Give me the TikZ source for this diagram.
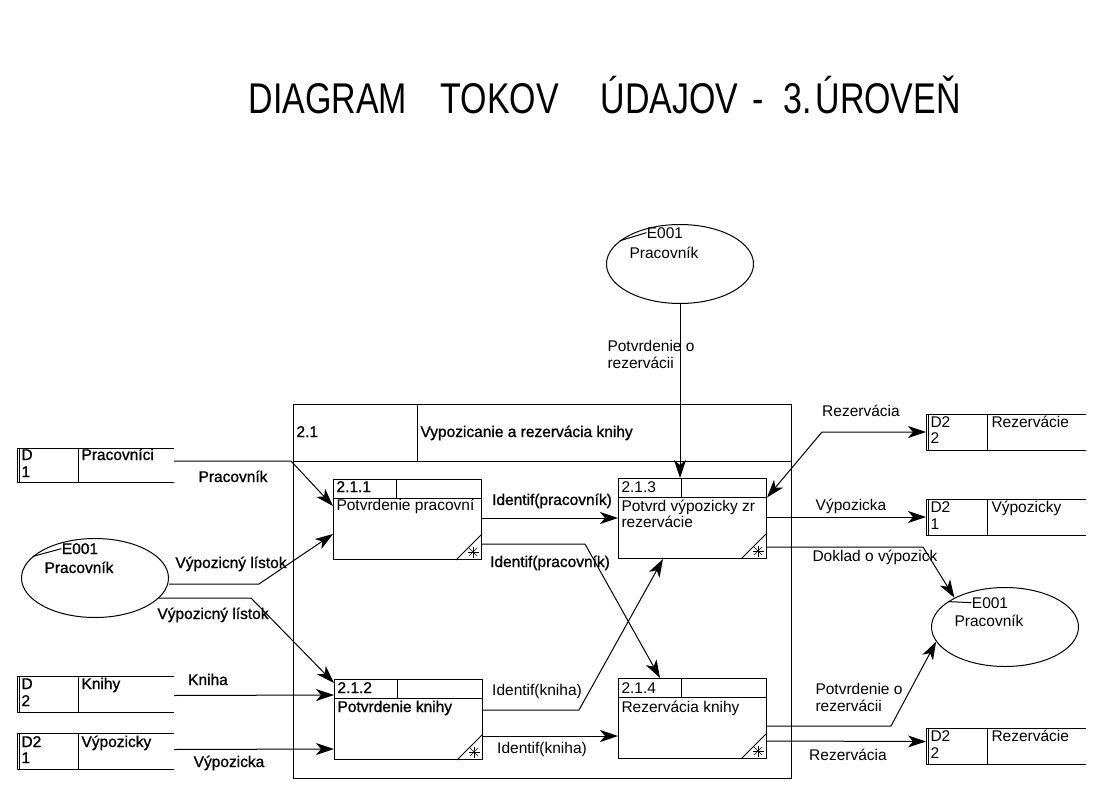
\documentclass[tikz,border=0pt]{standalone}
\usepackage{fontspec}
\setmainfont{Liberation Sans}
\newfontfamily\darkfont[FakeBold=1]{Liberation Sans}
\usepackage{graphicx}
\usetikzlibrary{arrows.meta,calc,shapes.geometric}

\newcommand\DFDstore[1]{%
  \draw (#1.north east) -- (#1.north west) -- (#1.south west) -- (#1.south east);
  \draw ($(#1.north west)+(2.5,0)$) -- ($(#1.south west)+(2.5,0)$);
  \draw ($(#1.north west)+(61.5,0)$) -- ($(#1.south west)+(61.5,0)$);}
\newcommand\DFDproc[1]{%
  \draw ($(#1.north west)+(0,19.5)$) -- ($(#1.north east)+(0,19.5)$);
  \draw ($(#1.north west)+(63,0)$) -- ($(#1.north west)+(63,19.5)$);
  \draw ($(#1.south east)+(-26,0)$) -- ($(#1.south east)+(0,-26)$);
  \foreach \a in {0,45,90,135}
    \draw[line width=0.6pt] ($(#1.south east)+(-9,-8)$) ++(\a:5.5) -- ++(\a+180:11);}

\begin{document}
\begin{tikzpicture}[x=1pt,y=-1pt,line width=1pt,
  every node/.style={inner sep=0pt},
  txt/.style={font=\fontsize{15.5}{17}\selectfont},
  dtxt/.style={font=\darkfont\fontsize{15.5}{17}\selectfont},
  ttl/.style={anchor=base west,font=\fontsize{43}{43}\selectfont},
  storebox/.style={minimum width=159pt,minimum height=35pt,anchor=north west},
  procbox/.style={draw,minimum width=148pt,minimum height=80pt,anchor=north west},
  entity/.style={draw,ellipse,minimum width=147pt,minimum height=79pt},
  tipA/.tip={Stealth[length=18pt,width=12pt,inset=5pt]},
  flow/.style={-tipA}]

\fill[white] (0,0) rectangle (1103,800);
\useasboundingbox (0,0) rectangle (1103,800);

% title
\node[ttl] (t1) at (248,113) {\scalebox{0.79}[1]{DIAGRAM}};
\node[ttl] (t2) at (440,113) {\scalebox{0.79}[1]{TOKOV}};
\node[ttl] (t3) at (600,113) {\scalebox{0.79}[1]{ÚDAJOV}};
\node[ttl] (t4) at (752,113) {\scalebox{0.79}[1]{-}};
\node[ttl] (t5) at (783,113) {\scalebox{0.79}[1]{3.}};
\node[ttl] (t6) at (815,113) {\scalebox{0.79}[1]{ÚROVEŇ}};

% data stores
\node[storebox,minimum width=156pt,minimum height=33pt] (d1) at (17,448) {};
\node[storebox,minimum width=156pt] (d2) at (17,676) {};
\node[storebox,minimum width=156pt] (d21) at (17,733) {};
\node[storebox] (d22a) at (926,414) {};
\node[storebox] (d21r) at (926,499) {};
\node[storebox] (d22b) at (926,728) {};
\DFDstore{d1}\DFDstore{d2}\DFDstore{d21}\DFDstore{d22a}\DFDstore{d21r}\DFDstore{d22b}

\node[dtxt,anchor=base west] (d1a) at ($(d1.north west)+(4,12)$) {D};
\node[dtxt,anchor=base west] (d1b) at ($(d1.north west)+(4,29)$) {1};
\node[dtxt,anchor=base west] (d1c) at ($(d1.north west)+(64,12)$) {Pracovníci};
\node[dtxt,anchor=base west] (d2a) at ($(d2.north west)+(4,13)$) {D};
\node[dtxt,anchor=base west] (d2b) at ($(d2.north west)+(4,30)$) {2};
\node[dtxt,anchor=base west] (d2c) at ($(d2.north west)+(64,13)$) {Knihy};
\node[dtxt,anchor=base west] (d21a) at ($(d21.north west)+(4,14)$) {D2};
\node[dtxt,anchor=base west] (d21b) at ($(d21.north west)+(4,30)$) {1};
\node[dtxt,anchor=base west] (d21c) at ($(d21.north west)+(64,14)$) {Výpozicky};
\node[txt,anchor=base west] (d22aa) at ($(d22a.north west)+(4,13)$) {D2};
\node[txt,anchor=base west] (d22ab) at ($(d22a.north west)+(4,29)$) {2};
\node[txt,anchor=base west] (d22ac) at ($(d22a.north west)+(65,13)$) {Rezervácie};
\node[txt,anchor=base west] (d21ra) at ($(d21r.north west)+(4,13)$) {D2};
\node[txt,anchor=base west] (d21rb) at ($(d21r.north west)+(4,30)$) {1};
\node[txt,anchor=base west] (d21rc) at ($(d21r.north west)+(65,13)$) {Výpozicky};
\node[txt,anchor=base west] (d22ba) at ($(d22b.north west)+(4,13)$) {D2};
\node[txt,anchor=base west] (d22bb) at ($(d22b.north west)+(4,30)$) {2};
\node[txt,anchor=base west] (d22bc) at ($(d22b.north west)+(65,13)$) {Rezervácie};

% external entities
\node[entity] (et) at (680,264) {};
\node[entity] (el) at (95,578) {};
\node[entity] (er) at (1005,627) {};
\node[txt,anchor=base] (et1) at (665,238) {E001};
\node[txt,anchor=base] (et2) at (664,258) {Pracovník};
\node[dtxt,anchor=base] (el1) at (80,554) {E001};
\node[dtxt,anchor=base] (el2) at (79,573) {Pracovník};
\node[txt,anchor=base] (er1) at (990,608) {E001};
\node[txt,anchor=base] (er2) at (989,626) {Pracovník};
\draw (et.159) -- (et1.west);
\draw (el.161) -- (el1.west);
\draw (er.156) -- (er1.west);

% outer process 2.1
\node[draw,minimum width=498pt,minimum height=374pt,anchor=north west] (p21) at (293,404) {};
\draw ($(p21.north west)+(0,57)$) -- ($(p21.north east)+(0,57)$);
\draw ($(p21.north west)+(124,0)$) -- ($(p21.north west)+(124,57)$);
\node[dtxt,anchor=base west] (p21n) at ($(p21.north west)+(3,33)$) {2.1};
\node[dtxt,anchor=base west] (p21t) at ($(p21.north west)+(127,33)$) {Vypozicanie a rezervácia knihy};

% sub-processes
\node[procbox] (p211) at (333,479) {};
\node[procbox] (p212) at (334,679) {};
\node[procbox] (p213) at (618,478) {};
\node[procbox] (p214) at (618,678) {};
\DFDproc{p211}\DFDproc{p212}\DFDproc{p213}\DFDproc{p214}
\node[dtxt,anchor=base west] (p211n) at ($(p211.north west)+(3,13)$) {2.1.1};
\node[txt,anchor=base west] (p211t) at ($(p211.north west)+(3,31)$) {Potvrdenie pracovní};
\node[dtxt,anchor=base west] (p212n) at ($(p212.north west)+(3,14)$) {2.1.2};
\node[dtxt,anchor=base west] (p212t) at ($(p212.north west)+(3,33)$) {Potvrdenie knihy};
\node[txt,anchor=base west] (p213n) at ($(p213.north west)+(3,14)$) {2.1.3};
\node[txt,anchor=base west] (p213t) at ($(p213.north west)+(3,33)$) {Potvrd výpozicky zr};
\node[txt,anchor=base west] (p213u) at ($(p213.north west)+(3,49)$) {rezervácie};
\node[txt,anchor=base west] (p214n) at ($(p214.north west)+(3,15)$) {2.1.4};
\node[txt,anchor=base west] (p214t) at ($(p214.north west)+(3,34)$) {Rezervácia knihy};

% flows: left side
\draw[flow] ($(d1.east)+(0,-4)$) -- ++(117,0) -- ($(p211.north west)+(0,27)$);
\draw[flow] ($(el.east)+(0,6)$) -- ++(90,0) -- ($(p211.north west)+(0,55)$);
\draw[flow] ($(el.center)+(64,20)$) -- ++(92,0) -- ($(p212.north west)+(0,4)$);
\draw[flow] ($(d2.east)+(0,1.5)$) -- ($(p212.north west)+(0,16)$);
\draw[flow] ($(d21.east)+(0,-1.5)$) -- ($(p212.north west)+(0,70)$);
\node[dtxt,anchor=base] (l1) at (233,482) {Pracovník};
\node[dtxt,anchor=base] (l2) at (231,568) {Výpozicný lístok};
\node[dtxt,anchor=base] (l3) at (213,619) {Výpozicný lístok};
\node[dtxt,anchor=base] (l4) at (208,685) {Kniha};
\node[dtxt,anchor=base] (l5) at (229,767) {Výpozicka};

% flows: middle
\draw[flow] ($(p211.north east)+(0,39)$) -- ($(p213.north west)+(0,40)$);
\draw[flow] ($(p211.north east)+(0,65)$) -- ++(103,0) -- ($(p214.north west)+(42,0)$);
\draw[flow] ($(p212.north east)+(0,31)$) -- ++(96,0) -- ($(p213.south west)+(45,0)$);
\draw[flow] ($(p212.north east)+(0,57)$) -- ($(p214.north west)+(0,58)$);
\draw[flow] (et.south) -- (et.south |- p213.north);
\node[dtxt,anchor=base] (m1) at (552,505) {Identif(pracovník)};
\node[dtxt,anchor=base] (m2) at (550,567) {Identif(pracovník)};
\node[txt,anchor=base] (m3) at (537,695) {Identif(kniha)};
\node[txt,anchor=base] (m4) at (542,753) {Identif(kniha)};
\node[txt,anchor=north west,align=left] (m5) at (607,340) {Potvrdenie o\\rezervácii};

% flows: right side
\draw[tipA-tipA] ($(p213.north east)+(0,19.5)$) -- ($(d22a.west)+(-104,0)$) -- (d22a.west);
\draw[flow] (p213.east |- d21r.west) -- (d21r.west);
\draw[flow] ($(p213.north east)+(0,69)$) -- ++(156,0) -- (er.150);
\draw[flow] ($(p214.north east)+(0,48)$) -- ++(124,0) -- (er.192);
\draw[flow] ($(p214.north east)+(0,63)$) -- ($(d22b.west)+(0,-4.5)$);
\node[txt,anchor=base] (r1) at (861,416) {Rezervácia};
\node[txt,anchor=base] (r2) at (851,510) {Výpozicka};
\node[txt,anchor=base] (r3) at (875,561) {Doklad o výpozick};
\node[txt,anchor=north west,align=left] (r4) at (815,683) {Potvrdenie o\\rezervácii};
\node[txt,anchor=base] (r5) at (848,760) {Rezervácia};
\end{tikzpicture}
\end{document}
